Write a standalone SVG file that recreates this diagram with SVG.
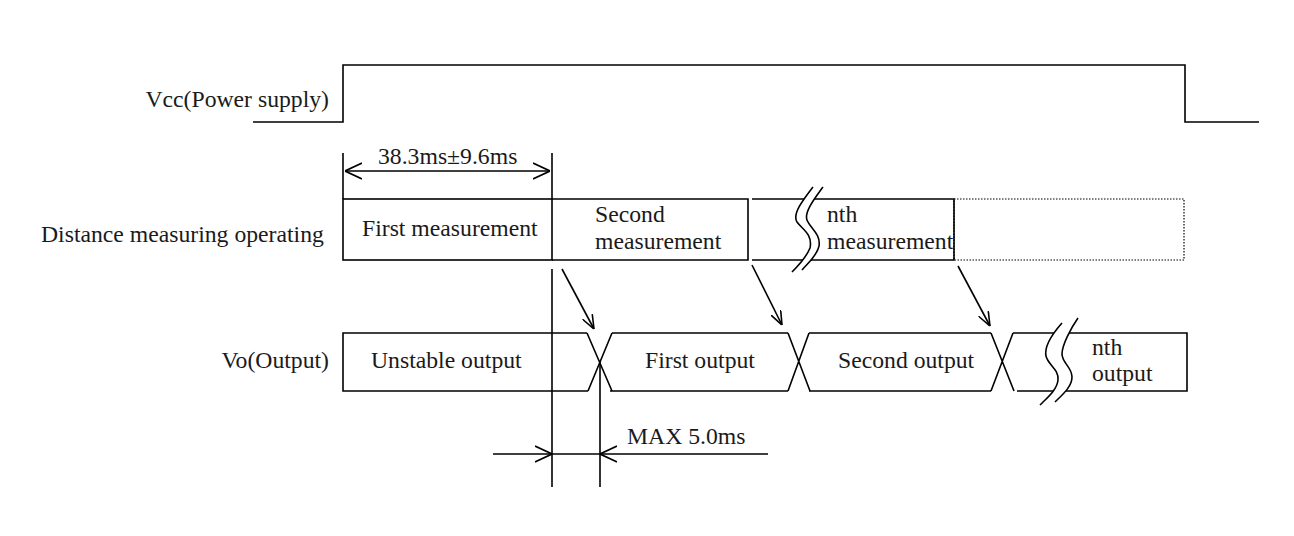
<svg xmlns="http://www.w3.org/2000/svg" width="1294" height="536" viewBox="0 0 1294 536">
<style>
.ln{fill:none;stroke:#000;stroke-width:1.6}
.dot{fill:none;stroke:#000;stroke-width:1.2;stroke-dasharray:1.5 1.5}
.brk{fill:#fff;stroke:none}
.t{font-family:"Liberation Serif","Times New Roman",serif;font-size:23.7px;fill:#1a1a1a}
</style>
<defs>
<marker id="dim" viewBox="0 0 17 18" refX="17" refY="9" markerWidth="17" markerHeight="18" markerUnits="userSpaceOnUse" orient="auto-start-reverse">
<path d="M0,1 L17,9 L0,17" fill="none" stroke="#000" stroke-width="1.6"/>
</marker>
<marker id="arr" viewBox="0 0 14 12" refX="14" refY="6" markerWidth="14" markerHeight="12" markerUnits="userSpaceOnUse" orient="auto">
<path d="M0,0.5 L14,6 L0,11.5" fill="none" stroke="#000" stroke-width="1.6"/>
</marker>
</defs>
<rect width="1294" height="536" fill="#fff"/>

<g id="labels">
<text class="t" x="329" y="107" text-anchor="end">Vcc(Power supply)</text>
<text class="t" x="41" y="242">Distance measuring operating</text>
<text class="t" x="329" y="368" text-anchor="end">Vo(Output)</text>
</g>

<g id="vcc">
<path class="ln" d="M253,122 L343,122 L343,65 L1185,65 L1185,122 L1259,122"/>
</g>

<g id="first-measurement">
<rect class="ln" x="343" y="199" width="209" height="61"/>
<text class="t" x="362" y="236">First measurement</text>
</g>
<g id="second-measurement">
<path class="ln" d="M552,199 L748,199 L748,260 L552,260"/>
<text class="t" x="595" y="222">Second</text>
<text class="t" x="595" y="249">measurement</text>
</g>
<g id="nth-measurement">
<path class="ln" d="M752,199 L954,199 L954,260 L752,260"/>
<path class="brk" d="M813,187 C803,200 792,214 797,222 C802,229 813,234 810,248 C806,258 798,266 792,272 L802,270 C808,263 817,256 819,246 C821,234 810,228 807,220 C804,212 815,198 823,187 Z"/>
<path class="ln" d="M813,187 C803,200 792,214 797,222 C802,229 813,234 810,248 C806,258 798,266 792,272"/>
<path class="ln" d="M823,187 C815,198 804,212 807,220 C810,228 821,234 819,246 C817,256 808,263 802,270"/>
<text class="t" x="827" y="222">nth</text>
<text class="t" x="827" y="249">measurement</text>
</g>
<g id="next-measurement">
<rect class="dot" x="954" y="199" width="230" height="61"/>
</g>

<g id="unstable-output">
<path class="ln" d="M587,333 L343,333 L343,391 L588,391"/>
<text class="t" x="371" y="368">Unstable output</text>
</g>
<g id="first-output">
<path class="ln" d="M612,333 L788,333 M610,391 L788,391"/>
<text class="t" x="645" y="368">First output</text>
</g>
<g id="second-output">
<path class="ln" d="M809,333 L991,333 M809,391 L991,391"/>
<text class="t" x="838" y="368">Second output</text>
</g>
<g id="nth-output">
<path class="ln" d="M1013,333 L1187,333 L1187,391 L1017,391"/>
<path class="brk" d="M1062,323 C1054,332 1044,346 1046,356 C1048,365 1059,369 1058,380 C1057,390 1047,398 1040,405 L1055,402 C1062,395 1072,387 1072,377 C1072,367 1062,363 1062,354 C1062,345 1071,328 1078,318 Z"/>
<path class="ln" d="M1062,323 C1054,332 1044,346 1046,356 C1048,365 1059,369 1058,380 C1057,390 1047,398 1040,405"/>
<path class="ln" d="M1078,318 C1071,328 1062,345 1062,354 C1062,363 1072,367 1072,377 C1072,387 1062,395 1055,402"/>
<text class="t" x="1092" y="355">nth</text>
<text class="t" x="1092" y="381">output</text>
</g>

<g id="connectors">
<path class="ln" d="M587,333 L612,391 M612,333 L588,391"/>
<path class="ln" d="M788,333 L810,391 M809,333 L788,391"/>
<path class="ln" d="M991,333 L1014,391 M1013,333 L991,391"/>
<path class="ln" d="M343,153 L343,199"/>
<path class="ln" d="M552,153 L552,199"/>
<path class="ln" d="M552,269 L552,487"/>
<path class="ln" d="M600,362 L600,487"/>
<path class="ln" d="M345,171 L550,171" marker-start="url(#dim)" marker-end="url(#dim)"/>
<text class="t" x="378" y="164">38.3ms±9.6ms</text>
<path class="ln" d="M562,269 L594,329" marker-end="url(#arr)"/>
<path class="ln" d="M752,265 L782,325" marker-end="url(#arr)"/>
<path class="ln" d="M958,266 L990,326" marker-end="url(#arr)"/>
<path class="ln" d="M493,454 L552,454" marker-end="url(#dim)"/>
<path class="ln" d="M552,454 L600,454"/>
<path class="ln" d="M768,454 L600,454" marker-end="url(#dim)"/>
<text class="t" x="627" y="444">MAX 5.0ms</text>
</g>
</svg>
